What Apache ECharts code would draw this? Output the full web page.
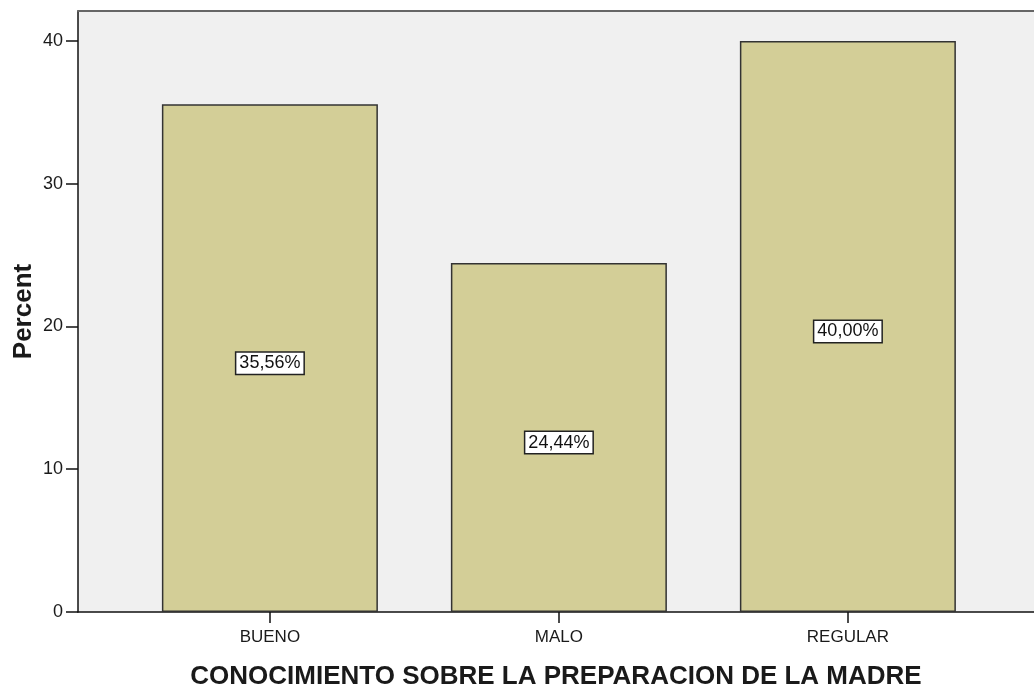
<!DOCTYPE html>
<html>
<head>
<meta charset="utf-8">
<script src="https://cdn.jsdelivr.net/npm/echarts@6/dist/echarts.min.js"></script>
<style>
  html, body { margin: 0; padding: 0; background: #fff; }
  #chart { width: 1034px; height: 690px; }
</style>
</head>
<body>
<div id="chart"></div>
<script>
// Bar chart, SPSS style: percent per knowledge level.
const categories = ['BUENO', 'MALO', 'REGULAR'];
const percents = [35.56, 24.44, 40.00];
const yTicks = [0, 10, 20, 30, 40];

const FONT = 'Liberation Sans, Arial, sans-serif';
const INK = '#1a1a1a';
const X_MIN = -0.664, X_MAX = 2.644;

const c = echarts.init(document.getElementById('chart'), null, { renderer: 'canvas' });
c.setOption({
  animation: false,
  textStyle: { fontFamily: FONT },
  grid: {
    left: 78, top: 11, bottom: 78, right: 0,
    outerBoundsMode: 'none', containLabel: false,
    show: true, backgroundColor: '#f0f0f0', borderWidth: 0,
  },
  xAxis: [{
    type: 'value',
    min: X_MIN, max: X_MAX,
    name: 'CONOCIMIENTO SOBRE LA PREPARACION DE LA MADRE',
    nameLocation: 'middle', nameGap: 52, nameMoveOverlap: false,
    nameTextStyle: { color: INK, fontSize: 26, fontWeight: 'bold', fontFamily: FONT },
    axisLine: { show: true, onZero: false, lineStyle: { color: '#111', width: 1.5 } },
    axisTick: { show: true, length: 11, customValues: [0, 1, 2], lineStyle: { color: '#111', width: 1.5 } },
    axisLabel: {
      customValues: [0, 1, 2], color: INK, fontSize: 17, margin: 17,
      formatter: v => categories[Math.round(v)] || '',
    },
    splitLine: { show: false },
  }, {
    // top frame line of the plot area
    type: 'value', position: 'top',
    min: X_MIN, max: X_MAX,
    axisLine: { show: true, onZero: false, lineStyle: { color: '#666', width: 2 } },
    axisTick: { show: false }, axisLabel: { show: false }, splitLine: { show: false },
  }],
  yAxis: {
    type: 'value',
    min: 0, max: 42.1,
    name: 'Percent',
    nameLocation: 'middle', nameGap: 41, nameMoveOverlap: false,
    nameTextStyle: { color: INK, fontSize: 26, fontWeight: 'bold', fontFamily: FONT },
    axisLine: { show: true, onZero: false, lineStyle: { color: '#111', width: 1.5 } },
    axisTick: { show: true, length: 12, customValues: yTicks, lineStyle: { color: '#111', width: 1.5 } },
    axisLabel: { customValues: yTicks, color: INK, fontSize: 18, margin: 15 },
    splitLine: { show: false },
  },
  series: [{
    type: 'bar',
    barWidth: 216,
    data: percents.map((p, i) => [i, p]),
    itemStyle: { color: '#d3ce97', borderColor: '#333', borderWidth: 1.5 },
    label: {
      show: true, position: 'inside', offset: [0, 5],
      formatter: p => p.value[1].toFixed(2).replace('.', ',') + '%',
      color: '#111', fontSize: 18, fontFamily: FONT,
      backgroundColor: '#fff', borderColor: '#222', borderWidth: 1.5,
      padding: [2, 3, 1, 3],
    },
  }],
});
</script>
</body>
</html>
